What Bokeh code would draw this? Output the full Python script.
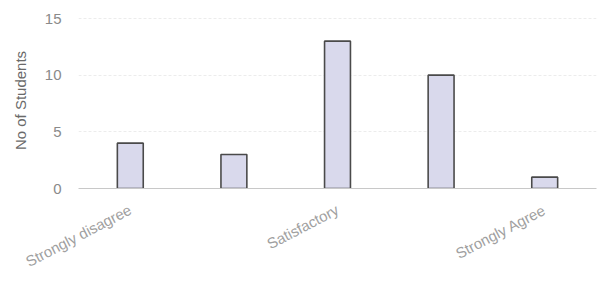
from bokeh.plotting import figure
from bokeh.models import FixedTicker, Range1d
from bokeh.embed import file_html
from bokeh.resources import INLINE

categories = ["Strongly disagree", "Disagree", "Satisfactory", "Agree", "Strongly Agree"]
students = [4, 3, 13, 10, 1]
shown_labels = ["Strongly disagree", "Satisfactory", "Strongly Agree"]
y_ticks = [0, 5, 10, 15]

xs = list(range(len(categories)))

p = figure(frame_width=518, frame_height=176, output_backend="svg", toolbar_location=None,
           x_range=Range1d(-0.5, len(categories) - 0.5), y_range=Range1d(0, 15.53),
           min_border_left=78, min_border_right=1, min_border_top=12, min_border_bottom=0)
p.outline_line_color = None
p.background_fill_color = "#ffffff"
p.border_fill_color = "#ffffff"

p.vbar(x=xs, top=students, width=0.25, bottom=0,
       fill_color="#d9d9ec", line_color="#4a4a4a", line_width=1.6)

# x axis: only every other category label shown
p.xaxis.ticker = FixedTicker(ticks=[i for i, c in enumerate(categories) if c in shown_labels])
p.xaxis.major_label_overrides = {i: c for i, c in enumerate(categories)}
p.xaxis.major_label_orientation = 0.48
p.xaxis.major_label_text_font = "Liberation Sans"
p.xaxis.major_label_text_font_size = "15px"
p.xaxis.major_label_text_color = "#a0a0a0"
p.xaxis.axis_line_color = "#c8c8c8"
p.xaxis.axis_line_width = 1
p.xaxis.major_tick_line_color = None
p.xaxis.minor_tick_line_color = None
p.xaxis.major_label_standoff = 14

p.yaxis.ticker = FixedTicker(ticks=y_ticks)
p.yaxis.axis_label = "No of Students"
p.yaxis.axis_label_text_font = "Liberation Sans"
p.yaxis.axis_label_text_font_style = "normal"
p.yaxis.axis_label_text_font_size = "15px"
p.yaxis.axis_label_text_color = "#6a6a6a"
p.yaxis.axis_label_standoff = 13
p.yaxis.major_label_text_font = "Liberation Sans"
p.yaxis.major_label_text_font_size = "15px"
p.yaxis.major_label_text_color = "#8a8a8a"
p.yaxis.axis_line_color = None
p.yaxis.major_tick_line_color = None
p.yaxis.minor_tick_line_color = None
p.yaxis.major_label_standoff = 11

p.xgrid.grid_line_color = None
p.ygrid.grid_line_color = "#ececec"
p.ygrid.grid_line_dash = "3 2"

open("out.html", "w").write(file_html(p, INLINE))
